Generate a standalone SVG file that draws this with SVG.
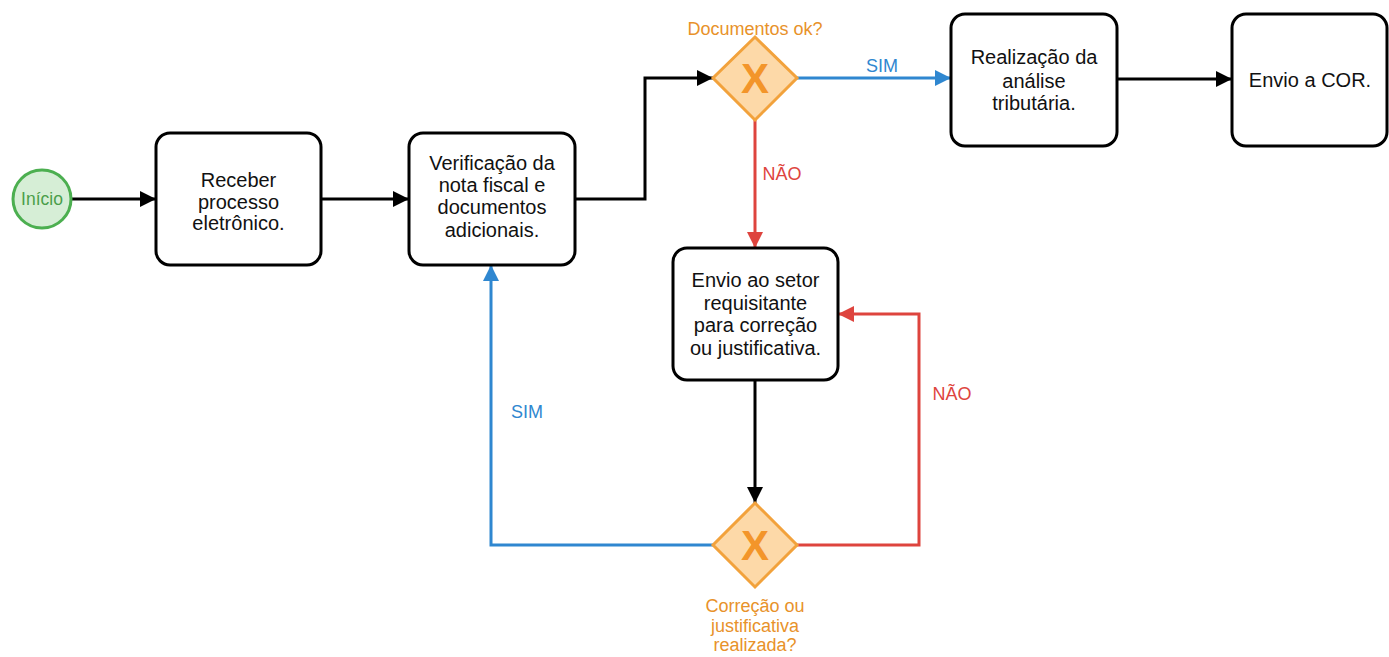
<svg xmlns="http://www.w3.org/2000/svg" width="1389" height="657" viewBox="0 0 1389 657">
<style>
.box{fill:#fff;stroke:#000;stroke-width:3}
.t{font-family:"Liberation Sans",Arial,sans-serif;font-size:20px;fill:#111;text-anchor:middle}
.gw{fill:#FDD9A8;stroke:#F2A23C;stroke-width:3}
.x{font-family:"Liberation Sans",Arial,sans-serif;font-size:42px;font-weight:bold;fill:#F3952A;text-anchor:middle}
.ol{font-family:"Liberation Sans",Arial,sans-serif;font-size:18px;fill:#E8922A;text-anchor:middle}
.k{fill:none;stroke:#000;stroke-width:3}
.b{fill:none;stroke:#2F87D0;stroke-width:3}
.r{fill:none;stroke:#DE443E;stroke-width:3}
.bl{font-family:"Liberation Sans",Arial,sans-serif;font-size:18px;fill:#2F87D0;text-anchor:middle}
.rl{font-family:"Liberation Sans",Arial,sans-serif;font-size:18px;fill:#DE443E;text-anchor:middle}
</style>
<defs>
<marker id="ak" markerWidth="16" markerHeight="16" refX="16" refY="8" orient="auto" markerUnits="userSpaceOnUse"><path d="M0,0 L16,8 L0,16 Z" fill="#000"/></marker>
<marker id="ab" markerWidth="16" markerHeight="16" refX="16" refY="8" orient="auto" markerUnits="userSpaceOnUse"><path d="M0,0 L16,8 L0,16 Z" fill="#2F87D0"/></marker>
<marker id="ar" markerWidth="16" markerHeight="16" refX="16" refY="8" orient="auto" markerUnits="userSpaceOnUse"><path d="M0,0 L16,8 L0,16 Z" fill="#DE443E"/></marker>
</defs>
<rect width="1389" height="657" fill="#fff"/>
<g id="connectors">
<path class="k" d="M72,199 H156" marker-end="url(#ak)"/>
<path class="k" d="M321,199 H409" marker-end="url(#ak)"/>
<path class="k" d="M575,199 H645 V78 H713" marker-end="url(#ak)"/>
<path class="b" d="M797,78 H951" marker-end="url(#ab)"/>
<text class="bl" x="882" y="72">SIM</text>
<path class="r" d="M755,120 V248" marker-end="url(#ar)"/>
<text class="rl" x="782" y="180">NÃO</text>
<path class="k" d="M1117,79 H1232" marker-end="url(#ak)"/>
<path class="k" d="M755,380 V503" marker-end="url(#ak)"/>
<path class="b" d="M713,545 H491 V265" marker-end="url(#ab)"/>
<text class="bl" x="527" y="418">SIM</text>
<path class="r" d="M797,545 H919 V314 H838" marker-end="url(#ar)"/>
<text class="rl" x="952" y="400">NÃO</text>
</g>
<g id="inicio">
<circle cx="42" cy="199" r="29" fill="#D6EED6" stroke="#4CAF50" stroke-width="3"/>
<text x="42" y="205" font-family="Liberation Sans,Arial,sans-serif" font-size="17.5" fill="#4A9E4A" text-anchor="middle">Início</text>
</g>
<g id="receber">
<rect class="box" x="156" y="133" width="165" height="132" rx="14"/>
<text class="t" x="238.5" y="187">Receber</text>
<text class="t" x="238.5" y="209">processo</text>
<text class="t" x="238.5" y="230">eletrônico.</text>
</g>
<g id="verificacao">
<rect class="box" x="409" y="133" width="166" height="132" rx="14"/>
<text class="t" x="492" y="170">Verificação da</text>
<text class="t" x="492" y="192">nota fiscal e</text>
<text class="t" x="492" y="214">documentos</text>
<text class="t" x="492" y="237">adicionais.</text>
</g>
<g id="gw1">
<path class="gw" d="M755,37 L797,78 L755,120 L713,78 Z"/>
<text class="x" x="755" y="93">X</text>
<text class="ol" x="755" y="35">Documentos ok?</text>
</g>
<g id="realizacao">
<rect class="box" x="951" y="14" width="166" height="132" rx="14"/>
<text class="t" x="1034" y="64">Realização da</text>
<text class="t" x="1034" y="88">análise</text>
<text class="t" x="1034" y="110">tributária.</text>
</g>
<g id="envio-cor">
<rect class="box" x="1232" y="14" width="155" height="132" rx="14"/>
<text class="t" x="1310" y="87">Envio a COR.</text>
</g>
<g id="envio-setor">
<rect class="box" x="673" y="248" width="165" height="132" rx="14"/>
<text class="t" x="755.5" y="287">Envio ao setor</text>
<text class="t" x="755.5" y="310">requisitante</text>
<text class="t" x="755.5" y="332">para correção</text>
<text class="t" x="755.5" y="355">ou justificativa.</text>
</g>
<g id="gw2">
<path class="gw" d="M755,503 L797,545 L755,587 L713,545 Z"/>
<text class="x" x="755" y="560">X</text>
<text class="ol" x="755" y="612">Correção ou</text>
<text class="ol" x="755" y="632">justificativa</text>
<text class="ol" x="755" y="651">realizada?</text>
</g>
</svg>
